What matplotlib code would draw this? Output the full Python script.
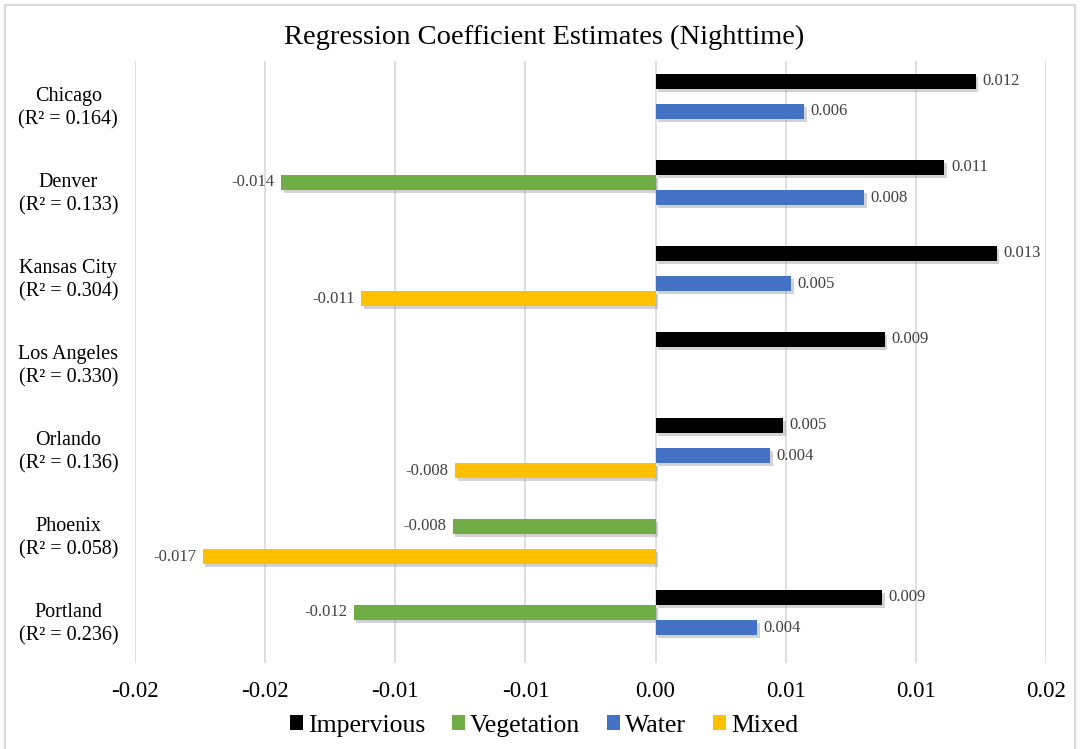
from decimal import Decimal, ROUND_HALF_UP
import numpy as np
import matplotlib.pyplot as plt
import matplotlib.patheffects as pe
from matplotlib.patches import Rectangle, Patch

plt.rcParams['font.family'] = ['Liberation Serif', 'DejaVu Serif']

cities = ["Chicago", "Denver", "Kansas City", "Los Angeles", "Orlando", "Phoenix", "Portland"]
r2 = ["0.164", "0.133", "0.304", "0.330", "0.136", "0.058", "0.236"]

# coefficient per land cover class (nan = not shown)
impervious = [0.0123, 0.0111, 0.0131, 0.0088, 0.0049, np.nan, 0.0087]
vegetation = [np.nan, -0.0144, np.nan, np.nan, np.nan, -0.0078, -0.0116]
water = [0.0057, 0.0080, 0.0052, np.nan, 0.0044, np.nan, 0.0039]
mixed = [np.nan, np.nan, -0.0113, np.nan, -0.0077, -0.0174, np.nan]

series = [("Impervious", impervious, "#000000"),
          ("Vegetation", vegetation, "#70AD47"),
          ("Water", water, "#4472C4"),
          ("Mixed", mixed, "#FFC000")]

xticks = [-0.02, -0.015, -0.01, -0.005, 0.0, 0.005, 0.01, 0.015]


def excel_fmt(v, places):
    # round half away from zero, like the spreadsheet number format
    q = Decimal(str(v)).quantize(Decimal(1).scaleb(-places), rounding=ROUND_HALF_UP)
    s = f"{q:.{places}f}"
    return "0." + "0" * places if float(q) == 0 else s


fig = plt.figure(figsize=(10.8, 7.49), dpi=100)
ax = fig.add_axes([0.125, 0.1148, 0.8435, 0.8038])

# chart border
fig.patches.append(Rectangle((5 / 1080, -0.01), 1070 / 1080, 1 - 5 / 749 + 0.01,
                             transform=fig.transFigure, fill=False,
                             edgecolor="#d9d9d9", linewidth=1.5))

y = np.arange(len(cities))
h = 0.175
shadow = [pe.withSimplePatchShadow(offset=(2, -2), shadow_rgbFace="#7f7f7f", alpha=0.35)]

for i, (name, vals, color) in enumerate(series):
    pos = y + (i - 1.5) * h
    vals = np.array(vals, dtype=float)
    bars = ax.barh(pos, np.nan_to_num(vals), height=h, color=color, zorder=3)
    for b, v, p in zip(bars, vals, pos):
        if np.isnan(v):
            b.set_visible(False)
            continue
        b.set_path_effects(shadow)
        if v > 0:
            ax.text(v + 0.00025, p, excel_fmt(v, 3), va="center", ha="left",
                    fontsize=12, color="#404040")
        else:
            ax.text(v - 0.00025, p, excel_fmt(v, 3), va="center", ha="right",
                    fontsize=12, color="#404040")

ax.set_ylim(len(cities) - 0.5, -0.5)
ax.set_xlim(-0.02, 0.015)
ax.set_yticks(y)
ax.set_yticklabels([f"{c}\n(R\u00b2 = {r})" for c, r in zip(cities, r2)],
                   fontsize=14.5, ha="center", linespacing=1.25)
ax.tick_params(axis="y", length=0, pad=48)
ax.set_xticks(xticks)
ax.set_xticklabels([excel_fmt(t, 2) for t in xticks], fontsize=16.5)
ax.tick_params(axis="x", length=0, pad=13)

ax.grid(axis="x", color="#d9d9d9", linewidth=1.2, zorder=0)
for s in ax.spines.values():
    s.set_visible(False)

ax.set_title("Regression Coefficient Estimates (Nighttime)", fontsize=20.5,
             x=0.449, pad=12)

handles = [Patch(facecolor=c, label=n) for n, _, c in series]
ax.legend(handles=handles, loc="center", bbox_to_anchor=(0.449, -0.104), ncol=4,
          frameon=False, fontsize=18.5, handlelength=0.5, handleheight=0.5,
          handletextpad=0.2, columnspacing=1.05)

fig.savefig("out.png", dpi=100)
